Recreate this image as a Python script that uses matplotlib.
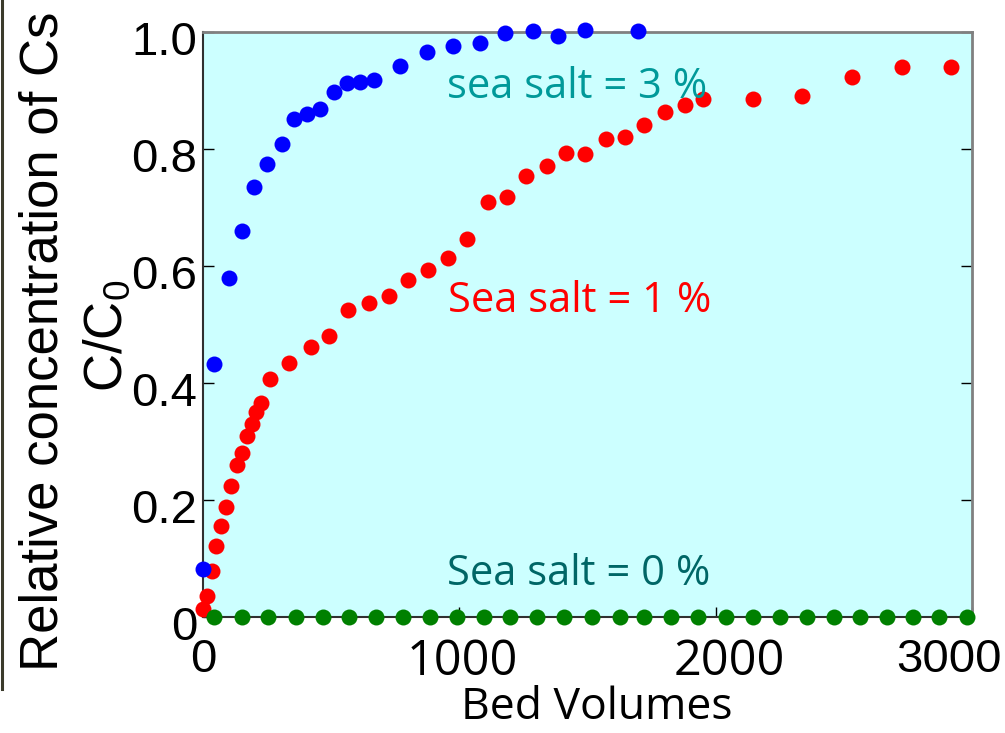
import numpy as np
import matplotlib
matplotlib.use('Agg')
import matplotlib.pyplot as plt
from matplotlib import rcParams
from matplotlib.lines import Line2D
from matplotlib.transforms import ScaledTranslation

# ---- data ----
bv_3pct = [0, 43, 103, 151, 200, 250, 307, 356, 407, 456, 512, 561, 612, 667,
           768, 874, 974, 1081, 1178, 1286, 1386, 1490, 1698]
cc_3pct = [0.082, 0.432, 0.579, 0.659, 0.735, 0.774, 0.809, 0.851, 0.860, 0.869,
           0.897, 0.913, 0.915, 0.918, 0.942, 0.965, 0.976, 0.981, 0.998, 1.002,
           0.993, 1.003, 1.001]

bv_1pct = [0, 14, 34, 51, 70, 89, 109, 131, 151, 170, 190, 207, 226, 261, 337,
           420, 493, 567, 649, 726, 801, 879, 955, 1029, 1111, 1185, 1260, 1341,
           1416, 1490, 1572, 1646, 1722, 1802, 1879, 1952, 2146, 2338, 2532, 2726,
           2919]
cc_1pct = [0.013, 0.036, 0.079, 0.121, 0.156, 0.188, 0.224, 0.259, 0.281, 0.310,
           0.330, 0.351, 0.365, 0.406, 0.435, 0.461, 0.480, 0.524, 0.536, 0.549,
           0.576, 0.593, 0.614, 0.647, 0.710, 0.718, 0.754, 0.771, 0.793, 0.791,
           0.817, 0.820, 0.841, 0.863, 0.875, 0.885, 0.885, 0.891, 0.923, 0.940,
           0.940]

bv_0pct = [44, 151, 255, 363, 467, 570, 674, 779, 886, 990, 1096, 1198, 1304,
           1408, 1516, 1627, 1721, 1826, 1932, 2040, 2144, 2250, 2355, 2463, 2563,
           2667, 2771, 2872, 2979]
cc_0pct = [0.0] * len(bv_0pct)

x_ticks = [0, 1000, 2000, 3000]
x_tick_labels = ['0', '1000', '2000', '3000']
y_ticks = [0, 0.2, 0.4, 0.6, 0.8, 1.0]
y_tick_labels = ['0', '0.2', '0.4', '0.6', '0.8', '1.0']

arial = 'Liberation Sans'
calib = 'Open Sans'
rcParams['mathtext.fontset'] = 'custom'
rcParams['mathtext.rm'] = arial
rcParams['mathtext.it'] = arial

W, H = 1005, 733
fig = plt.figure(figsize=(W / 100, H / 100), dpi=100)
ax = fig.add_axes([203 / W, 1 - 617 / H, (972 - 203) / W, (617 - 32) / H])
ax.set_facecolor('#ccffff')

# points
ax.plot(bv_1pct, cc_1pct, 'o', color='#ff0000', ms=11.5, mec='none', clip_on=False, zorder=3)
ax.plot(bv_0pct, cc_0pct, 'o', color='#008000', ms=11.5, mec='none', clip_on=False, zorder=4)
ax.plot(bv_3pct, cc_3pct, 'o', color='#0000ff', ms=11.5, mec='none', clip_on=False, zorder=5)

ax.set_xlim(0, 3000)
ax.set_ylim(0, 1.0)

# spines
for s in ['left', 'bottom']:
    ax.spines[s].set_color('#303030')
    ax.spines[s].set_linewidth(1.5)
for s in ['top', 'right']:
    ax.spines[s].set_color('#808080')
    ax.spines[s].set_linewidth(2)

# ticks
ax.set_xticks(x_ticks)
ax.set_xticklabels(x_tick_labels)
ax.set_yticks(y_ticks)
ax.set_yticklabels(y_tick_labels)
ax.tick_params(axis='y', which='both', direction='in', length=8, width=1,
               right=True, left=True, pad=4, labelsize=34)
ax.tick_params(axis='x', which='both', direction='in', length=7, width=1,
               top=False, pad=15)

for lab in ax.get_yticklabels():
    lab.set_fontfamily(arial)
    lab.set_transform(lab.get_transform() + ScaledTranslation(0, -6 / 100, fig.dpi_scale_trans))

x_fonts = [arial, calib, calib, arial]
x_sizes = [34, 35, 35, 34]
x_shift = [0, 3, 14, -23]
for lab, fam, sz, dx in zip(ax.get_xticklabels(), x_fonts, x_sizes, x_shift):
    lab.set_fontfamily(fam)
    lab.set_fontsize(sz)
    lab.set_transform(lab.get_transform() + ScaledTranslation(dx / 100, 0, fig.dpi_scale_trans))

# axis labels
ax.set_xlabel('Bed Volumes', fontfamily=calib, fontsize=32)
ax.xaxis.label.set_va('baseline')
ax.xaxis.set_label_coords((597 - 203) / 769, (617 - 719) / 585)

fig.text(58 / W, 1 - 341 / H, 'Relative concentration of Cs', rotation=90,
         rotation_mode='anchor', ha='center', va='baseline',
         fontfamily=arial, fontsize=38)
fig.text(122 / W, 1 - 336 / H, 'C/C$_\\mathrm{0}$', rotation=90,
         rotation_mode='anchor', ha='center', va='baseline',
         fontfamily=arial, fontsize=38)

# annotations
def px_to_data(px, py):
    return (px - 203) / 769 * 3000, (617 - py) / 585

tx, ty = px_to_data(447, 98)
ax.text(tx, ty, 'sea salt = 3 %', color='#009999', fontfamily=calib, fontsize=30, va='baseline')
tx, ty = px_to_data(448, 312)
ax.text(tx, ty, 'Sea salt = 1 %', color='#ff0000', fontfamily=calib, fontsize=30, va='baseline')
tx, ty = px_to_data(447, 585)
ax.text(tx, ty, 'Sea salt = 0 %', color='#006666', fontfamily=calib, fontsize=30, va='baseline')

# dark strip on the far left edge
fig.add_artist(Line2D([1.5 / W, 1.5 / W], [1, 1 - 689 / H], color='#3b3b2b', lw=2.2))

fig.savefig('out.png', dpi=100)
